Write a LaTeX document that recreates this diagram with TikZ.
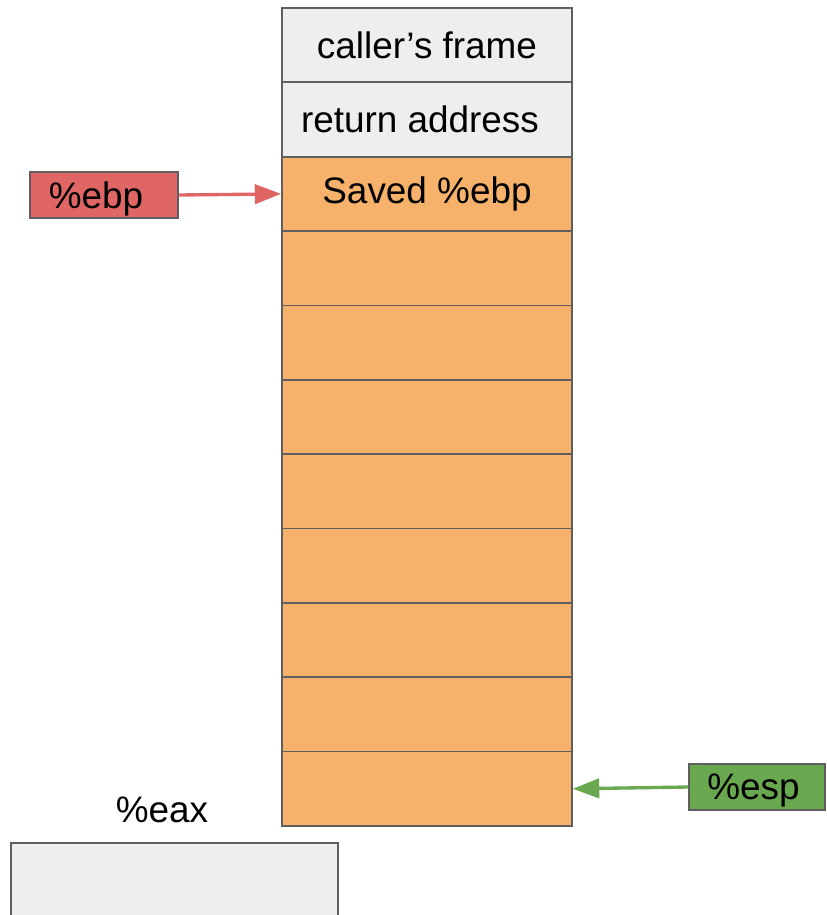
\documentclass[tikz,border=0pt]{standalone}
\usepackage{fontspec}
\setmainfont{Liberation Sans}
\usetikzlibrary{arrows.meta}

\definecolor{cellgray}{HTML}{EEEEEE}
\definecolor{frameorange}{HTML}{F6B26B}
\definecolor{ebpred}{HTML}{E06666}
\definecolor{espgreen}{HTML}{6AA84F}
\definecolor{linegray}{HTML}{5F5F5F}

\begin{document}
\begin{tikzpicture}[x=0.02cm,y=-0.02cm]

\useasboundingbox (0,0) rectangle (826,915);

\tikzstyle{cell}=[draw=linegray, line width=1pt, minimum width=5.8cm, minimum height=1.487cm, inner sep=0pt, font=\fontsize{21}{25}\selectfont]
\tikzstyle{reg}=[draw=linegray, line width=1pt, minimum height=0.92cm, inner sep=0pt, text depth=0pt, font=\fontsize{21}{25}\selectfont]
\tikzstyle{regarrow}=[line width=1.9pt, -{Triangle[length=15pt, width=11pt]}]

% the stack
\node[cell, fill=cellgray] (c0) at (427,45.2) {caller's frame};
\node[cell, fill=cellgray] (c1) at (427,119.5) {return address\hspace*{8pt}};
\node[cell, fill=frameorange] (c2) at (427,193.9) {Saved \%ebp};
\foreach \i in {3,...,10}
  \node[cell, fill=frameorange] (c\i) at (427,{8+74.36*(\i+0.5)}) {};

% registers
\node[reg, fill=ebpred, minimum width=2.96cm] (ebp) at (104,195) {\%ebp\hspace*{9pt}};
\node[reg, fill=espgreen, minimum width=2.72cm] (esp) at (757,787) {\%esp\hspace*{4pt}};
\draw[regarrow, ebpred] (ebp.east) -- (c2.west);
\draw[regarrow, espgreen] (esp.west) -- (c10.east);

% %eax
\node[font=\fontsize{21}{25}\selectfont] (eaxlabel) at (162,810) {\%eax};
\node[draw=linegray, line width=1pt, fill=cellgray, minimum width=6.54cm, minimum height=2cm, inner sep=0pt] (eax) at (174.5,893) {};

\end{tikzpicture}
\end{document}
